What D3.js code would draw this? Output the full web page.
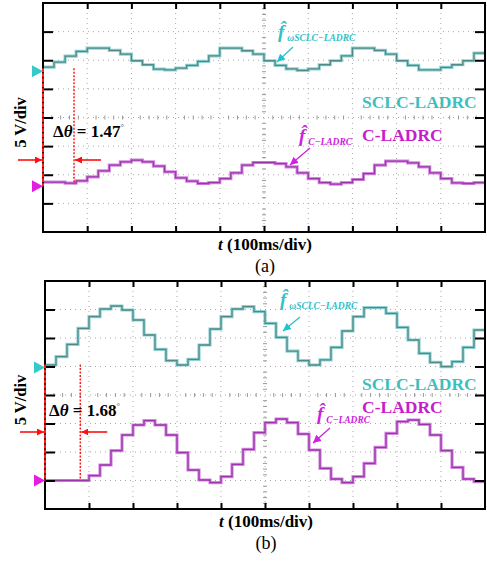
<!DOCTYPE html>
<html>
<head>
<meta charset="utf-8">
<script src="https://cdn.jsdelivr.net/npm/d3@7"></script>
<style>
  html, body { margin: 0; padding: 0; background: #fff; }
  svg { display: block; }
</style>
</head>
<body>
<script>
// Oscilloscope captures: estimated disturbance of two controllers (staircase, 25 ms update)

// Time base: 10 divisions of 100 ms
const timeTicksMs = [0, 100, 200, 300, 400, 500, 600, 700, 800, 900, 1000];
const voltTicks = [-20, -15, -10, -5, 0, 5, 10, 15, 20];
const voltsPerDiv = 5;
const stepMs = 25;          // controller update interval
const periodMs = 300;       // disturbance period

// Step levels in volts, relative to each channel's ground marker
const sclcA = [0.70, 1.57, 2.62, 3.44, 4.02, 4.02, 3.61, 2.97, 1.81, 1.11,
               0.35, 0.23, 0.52, 0.99, 1.69, 2.68, 4.02, 4.02, 3.56, 2.97,
               1.81, 0.99, 0.41, 0.12, 0.41, 1.11, 1.81, 2.68, 4.02, 4.02,
               3.61, 2.97, 1.81, 0.99, 0.23, 0.23, 0.64, 1.11, 1.81, 3.15];
const cladrcA = [0.70, 0.70, 0.52, 0.93, 1.63, 2.68, 3.67, 4.25, 4.55, 4.25,
                 3.50, 2.51, 1.46, 0.87, 0.47, 0.64, 1.34, 2.33, 3.67, 4.14,
                 4.14, 3.96, 3.38, 2.33, 1.34, 0.64, 0.35, 0.64, 1.17, 2.21,
                 3.67, 4.37, 4.37, 4.08, 3.38, 2.33, 1.34, 0.58, 0.47, 0.64];
const sclcB = [0.44, 1.90, 4.06, 6.87, 8.92, 10.26, 10.79, 10.09, 8.33, 5.70,
               3.19, 1.20, 0.44, 1.43, 3.95, 6.75, 8.92, 10.26, 10.67, 9.80,
               7.75, 5.29, 2.89, 1.20, 0.44, 1.32, 3.54, 6.40, 8.92, 10.50,
               10.50, 9.50, 7.05, 4.82, 2.49, 0.91, 0.15, 1.02, 3.54, 6.58];
const cladrcB = [0.00, 0.00, 0.00, 0.00, 0.85, 2.72, 5.23, 7.98, 9.74, 10.50,
                 9.74, 7.98, 4.88, 1.84, 0.09, -0.38, 0.67, 2.84, 5.47, 8.39,
                 10.15, 10.79, 10.15, 8.16, 5.35, 2.13, 0.26, -0.38, 0.67, 3.01,
                 5.82, 8.28, 10.32, 10.61, 9.85, 7.98, 5.23, 2.31, 0.26, -0.20];

// Phase lag of C-LADRC behind SCLC-LADRC (rad)
const phaseLags = [1.47, 1.68];
const seriesNames = ["SCLC-LADRC", "C-LADRC"];
const traceSubscripts = ["\u03c9SCLC\u2212LADRC", "C\u2212LADRC"];
const panelLabels = ["(a)", "(b)"];
const axisTitleX = ["t", " (100ms/div)"];
const axisTitleY = "5 V/div";

const W = 487, H = 565;
const serif = "'Times New Roman', 'Liberation Serif', serif";
const cyan = "#36c9c9", cyanText = "#3dbfbf", magenta = "#e21ee2", magText = "#c81ccc";

const svg = d3.select("body").append("svg")
  .attr("width", W).attr("height", H)
  .attr("viewBox", `0 0 ${W} ${H}`);
svg.append("rect").attr("width", W).attr("height", H).attr("fill", "#fff");

const defs = svg.append("defs");
const addArrow = (id, col, size) => defs.append("marker").attr("id", id)
  .attr("viewBox", "0 0 10 10").attr("refX", 10).attr("refY", 5)
  .attr("markerWidth", size).attr("markerHeight", size).attr("markerUnits", "userSpaceOnUse")
  .attr("orient", "auto")
  .append("path").attr("d", "M0,0L10,5L0,10Z").attr("fill", col);
addArrow("arrRed", "#ff1010", 7);
addArrow("arrCyan", "#20c4d0", 8);
addArrow("arrMag", "#d020e0", 8);

const panels = [
  { left: 43, right: 485, top: 3, bottom: 232,
    cyanGround: 1.62, magGround: -2.4,
    sclc: sclcA, cladrc: cladrcA, lag: phaseLags[0], label: panelLabels[0],
    arrowY: 160, deltaX: 53, deltaY: 137,
    legendY: [108, 141],
    annC: { x: 278, y: 38, from: [293, 47], to: [277, 62] },
    annM: { x: 299, y: 142, from: [310, 148], to: [290, 165] } },
  { left: 45, right: 485, top: 281, bottom: 509,
    cyanGround: 0.965, magGround: -3,
    sclc: sclcB, cladrc: cladrcB, lag: phaseLags[1], label: panelLabels[1],
    arrowY: 432, deltaX: 49, deltaY: 416,
    legendY: [390, 413],
    annC: { x: 280, y: 306, from: [300, 317], to: [283, 331] },
    annM: { x: 317, y: 420, from: [330, 428], to: [313, 443] } }
];

panels.forEach((p, pi) => {
  const g = svg.append("g");
  const x = d3.scaleLinear().domain([0, 1000]).range([p.left, p.right]);
  const y = d3.scaleLinear().domain([-20, 20]).range([p.bottom, p.top]);
  const innerT = timeTicksMs.slice(1, -1);
  const innerV = voltTicks.slice(1, -1);

  // dotted graticule
  g.append("g").selectAll("line").data(innerT).join("line")
    .attr("x1", d => x(d)).attr("x2", d => x(d))
    .attr("y1", p.top).attr("y2", p.bottom)
    .attr("stroke", "#a8a8a8").attr("stroke-width", 1)
    .attr("stroke-dasharray", "1,4");
  g.append("g").selectAll("line").data(innerV).join("line")
    .attr("y1", d => y(d)).attr("y2", d => y(d))
    .attr("x1", p.left).attr("x2", p.right)
    .attr("stroke", "#a8a8a8").attr("stroke-width", 1)
    .attr("stroke-dasharray", "1,4");

  // fine marks on the centre lines
  const fineV = d3.range(-20, 20.001, 1).filter(v => v % 5 !== 0);
  g.append("g").selectAll("line").data(fineV).join("line")
    .attr("x1", x(500) - 2).attr("x2", x(500) + 2)
    .attr("y1", d => y(d)).attr("y2", d => y(d))
    .attr("stroke", "#999").attr("stroke-width", 1);
  const fineT = d3.range(0, 1000.001, 20).filter(t => t % 100 !== 0);
  g.append("g").selectAll("line").data(fineT).join("line")
    .attr("x1", d => x(d)).attr("x2", d => x(d))
    .attr("y1", y(0) - 2).attr("y2", y(0) + 2)
    .attr("stroke", "#999").attr("stroke-width", 1);

  // traces
  const clipId = "clip" + pi;
  defs.append("clipPath").attr("id", clipId).append("rect")
    .attr("x", p.left).attr("y", p.top)
    .attr("width", p.right - p.left).attr("height", p.bottom - p.top);
  const stair = (vals, groundDiv) => {
    const pts = vals.map((v, i) => [i * stepMs, v]);
    pts.push([vals.length * stepMs, vals[vals.length - 1]]);
    return d3.line()
      .x(d => x(d[0]))
      .y(d => y(groundDiv * voltsPerDiv + d[1]))
      .curve(d3.curveStepAfter)(pts);
  };
  const tg = g.append("g").attr("clip-path", `url(#${clipId})`);
  [[p.sclc, p.cyanGround, "#92d2d2", "#4f8a8a"],
   [p.cladrc, p.magGround, "#d488e0", "#9a36aa"]].forEach(([vals, gd, halo, core]) => {
    const d = stair(vals, gd);
    tg.append("path").attr("d", d).attr("fill", "none")
      .attr("stroke", halo).attr("stroke-width", 3.2).attr("stroke-linejoin", "miter");
    tg.append("path").attr("d", d).attr("fill", "none")
      .attr("stroke", core).attr("stroke-width", 1.3).attr("stroke-linejoin", "miter");
  });

  // frame
  g.append("rect").attr("x", p.left).attr("y", p.top)
    .attr("width", p.right - p.left).attr("height", p.bottom - p.top)
    .attr("fill", "none").attr("stroke", "#000").attr("stroke-width", 2);

  // inward major ticks on all four sides
  const styleAxis = sel => {
    sel.select(".domain").remove();
    sel.selectAll("text").remove();
    sel.selectAll("line").attr("stroke", "#000").attr("stroke-width", 2);
  };
  g.append("g").attr("transform", `translate(0,${p.bottom})`)
    .call(d3.axisTop(x).tickValues(innerT).tickSize(6)).call(styleAxis);
  g.append("g").attr("transform", `translate(0,${p.top})`)
    .call(d3.axisBottom(x).tickValues(innerT).tickSize(6)).call(styleAxis);
  g.append("g").attr("transform", `translate(${p.left},0)`)
    .call(d3.axisRight(y).tickValues(innerV).tickSize(10)).call(styleAxis);
  g.append("g").attr("transform", `translate(${p.right},0)`)
    .call(d3.axisLeft(y).tickValues(innerV).tickSize(10)).call(styleAxis);

  // phase-lag markers
  const yC = y(p.cyanGround * voltsPerDiv);
  const yM = y(p.magGround * voltsPerDiv);
  const lagMs = p.lag / (2 * Math.PI) * periodMs;
  const xL = x(lagMs);
  g.append("line").attr("x1", p.left).attr("x2", p.left)
    .attr("y1", yC - 3).attr("y2", yM)
    .attr("stroke", "#ff1a1a").attr("stroke-width", 2).attr("stroke-dasharray", "4,1");
  g.append("line").attr("x1", xL).attr("x2", xL)
    .attr("y1", yC - 3).attr("y2", yM - 2)
    .attr("stroke", "#ff1a1a").attr("stroke-width", 1.5).attr("stroke-dasharray", "2,1.5");
  g.append("line").attr("x1", p.left - 25).attr("x2", p.left - 1)
    .attr("y1", p.arrowY).attr("y2", p.arrowY)
    .attr("stroke", "#ff1010").attr("stroke-width", 1.6).attr("marker-end", "url(#arrRed)");
  g.append("line").attr("x1", xL + 27).attr("x2", xL + 1)
    .attr("y1", p.arrowY).attr("y2", p.arrowY)
    .attr("stroke", "#ff1010").attr("stroke-width", 1.6).attr("marker-end", "url(#arrRed)");

  // channel ground markers
  [[yC, cyan], [yM, magenta]].forEach(([yy, col]) => {
    g.append("path")
      .attr("d", `M${p.left - 11},${yy - 6}L${p.left},${yy}L${p.left - 11},${yy + 6}Z`)
      .attr("fill", col);
  });

  // Δθ label
  const dt = g.append("text").attr("x", p.deltaX).attr("y", p.deltaY)
    .attr("font-family", serif).attr("font-size", 17).attr("font-weight", "bold")
    .attr("fill", "#000");
  dt.append("tspan").text("\u0394");
  dt.append("tspan").attr("font-style", "italic").text("\u03b8");
  dt.append("tspan").text(" = " + p.lag.toFixed(2));
  dt.append("tspan").attr("font-size", 9).attr("font-weight", "normal")
    .attr("dy", -7).attr("fill", "#555").text("\u00b0");

  // axis titles
  g.append("text")
    .attr("transform", `translate(26,${(p.top + p.bottom) / 2 + 5}) rotate(-90)`)
    .attr("text-anchor", "middle")
    .attr("font-family", serif).attr("font-size", 16.5).attr("font-weight", "bold")
    .text(axisTitleY);
  const xt = g.append("text").attr("x", (p.left + p.right) / 2 + 1).attr("y", p.bottom + 17.5)
    .attr("text-anchor", "middle")
    .attr("font-family", serif).attr("font-size", 17).attr("font-weight", "bold");
  xt.append("tspan").attr("font-style", "italic").text(axisTitleX[0]);
  xt.append("tspan").text(axisTitleX[1]);
  g.append("text").attr("x", (p.left + p.right) / 2 + 1).attr("y", p.bottom + 39.5)
    .attr("text-anchor", "middle")
    .attr("font-family", serif).attr("font-size", 18)
    .text(p.label);

  // legend names
  g.append("text").attr("x", 362).attr("y", p.legendY[0])
    .attr("font-family", serif).attr("font-size", 17.5).attr("font-weight", "bold")
    .attr("fill", cyanText).text(seriesNames[0]);
  g.append("text").attr("x", 362).attr("y", p.legendY[1])
    .attr("font-family", serif).attr("font-size", 17.5).attr("font-weight", "bold")
    .attr("fill", magText).text(seriesNames[1]);

  // trace annotations: hatted f with a small lowered subscript, one text element
  const annot = (a, sub, col, arrowId) => {
    const t = g.append("text").attr("x", a.x).attr("y", a.y)
      .attr("font-family", serif).attr("font-weight", "bold")
      .attr("font-style", "italic").attr("fill", col);
    t.append("tspan").attr("font-size", 19).text("f\u0302");
    t.append("tspan").attr("font-size", 9.5).attr("dx", 3).attr("dy", 3).text(sub);
    g.append("line").attr("x1", a.from[0]).attr("y1", a.from[1])
      .attr("x2", a.to[0]).attr("y2", a.to[1])
      .attr("stroke", col).attr("stroke-width", 1.3).attr("marker-end", `url(#${arrowId})`);
  };
  annot(p.annC, traceSubscripts[0], "#2fc0c8", "arrCyan");
  annot(p.annM, traceSubscripts[1], "#cc22dd", "arrMag");
});
</script>
</body>
</html>
